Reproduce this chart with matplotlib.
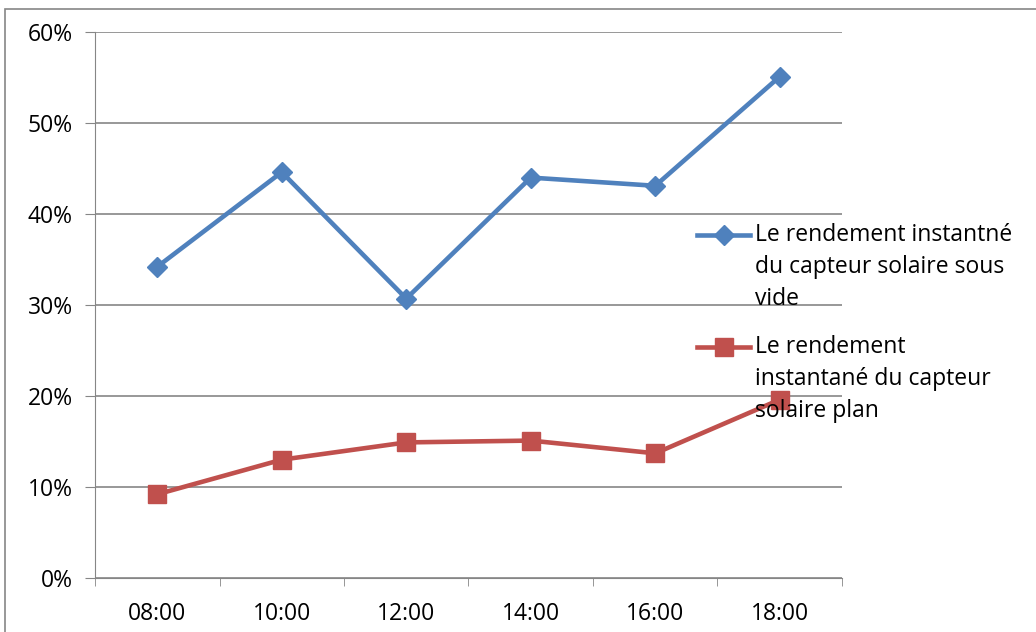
import matplotlib.pyplot as plt
from matplotlib.lines import Line2D
from matplotlib.patches import Rectangle
from matplotlib.ticker import PercentFormatter

plt.rcParams['font.family'] = ['Open Sans', 'DejaVu Sans']

# données
heures = ['08:00', '10:00', '12:00', '14:00', '16:00', '18:00']
rend_sous_vide = [0.342, 0.446, 0.307, 0.440, 0.431, 0.551]
rend_plan = [0.092, 0.130, 0.149, 0.151, 0.137, 0.196]
labels = [['Le rendement instantné', 'du capteur solaire sous', 'vide'],
          ['Le rendement', 'instantané du capteur', 'solaire plan']]
couleurs = ['#4F81BD', '#C0504D']
marqueurs = [('D', 10.5), ('s', 12.5)]

W, H = 1036, 632
fig = plt.figure(figsize=(W / 100, H / 100), dpi=100)
ax = fig.add_axes([95 / W, 1 - 578 / H, (842 - 95) / W, (578 - 32) / H])

# cadre gris autour du graphique
fig.patches.append(Rectangle((5 / W, -0.02), 1.1, 1 - 9 / H + 0.02,
                             transform=fig.transFigure, fill=False,
                             edgecolor='#868686', lw=1.2))

x = range(len(heures))
for serie, c, (m, ms) in zip([rend_sous_vide, rend_plan], couleurs, marqueurs):
    ax.plot(x, serie, color=c, lw=3.3, marker=m, ms=ms, clip_on=False, zorder=3)

ax.set_xlim(-0.5, len(heures) - 0.5)
ax.set_ylim(0, 0.6)
ax.set_yticks([i / 10 for i in range(7)])
ax.yaxis.set_major_formatter(PercentFormatter(1.0, decimals=0))
ax.set_xticks(list(x))
ax.set_xticklabels(heures)
ax.set_xticks([i - 0.5 for i in range(len(heures) + 1)], minor=True)
ax.tick_params(axis='x', which='major', length=0, pad=17, labelsize=16.5)
ax.tick_params(axis='x', which='minor', length=6, color='#868686', direction='out')
ax.tick_params(axis='y', length=7, color='#868686', labelsize=16.5, pad=9)

ax.grid(axis='y', color='#868686', lw=1.2)
ax.set_axisbelow(True)
for s in ['top', 'right']:
    ax.spines[s].set_visible(False)
ax.spines['left'].set_color('#868686')
ax.spines['bottom'].set_color('#868686')

# légende dessinée à la main (symbole aligné sur la première ligne)
for k, (lab, c, (m, ms)) in enumerate(zip(labels, couleurs, marqueurs)):
    y0 = 235 + k * 112
    fy = 1 - y0 / H
    fig.add_artist(Line2D([697 / W, 750 / W], [fy, fy], color=c, lw=3.3,
                          transform=fig.transFigure))
    fig.add_artist(Line2D([723.5 / W], [fy], color=c, marker=m, ms=ms,
                          transform=fig.transFigure))
    for j, ligne in enumerate(lab):
        fig.text(755 / W, 1 - (y0 + 32 * j) / H, ligne, fontsize=16.5,
                 va='center', ha='left')

fig.savefig('out.png', dpi=100)
